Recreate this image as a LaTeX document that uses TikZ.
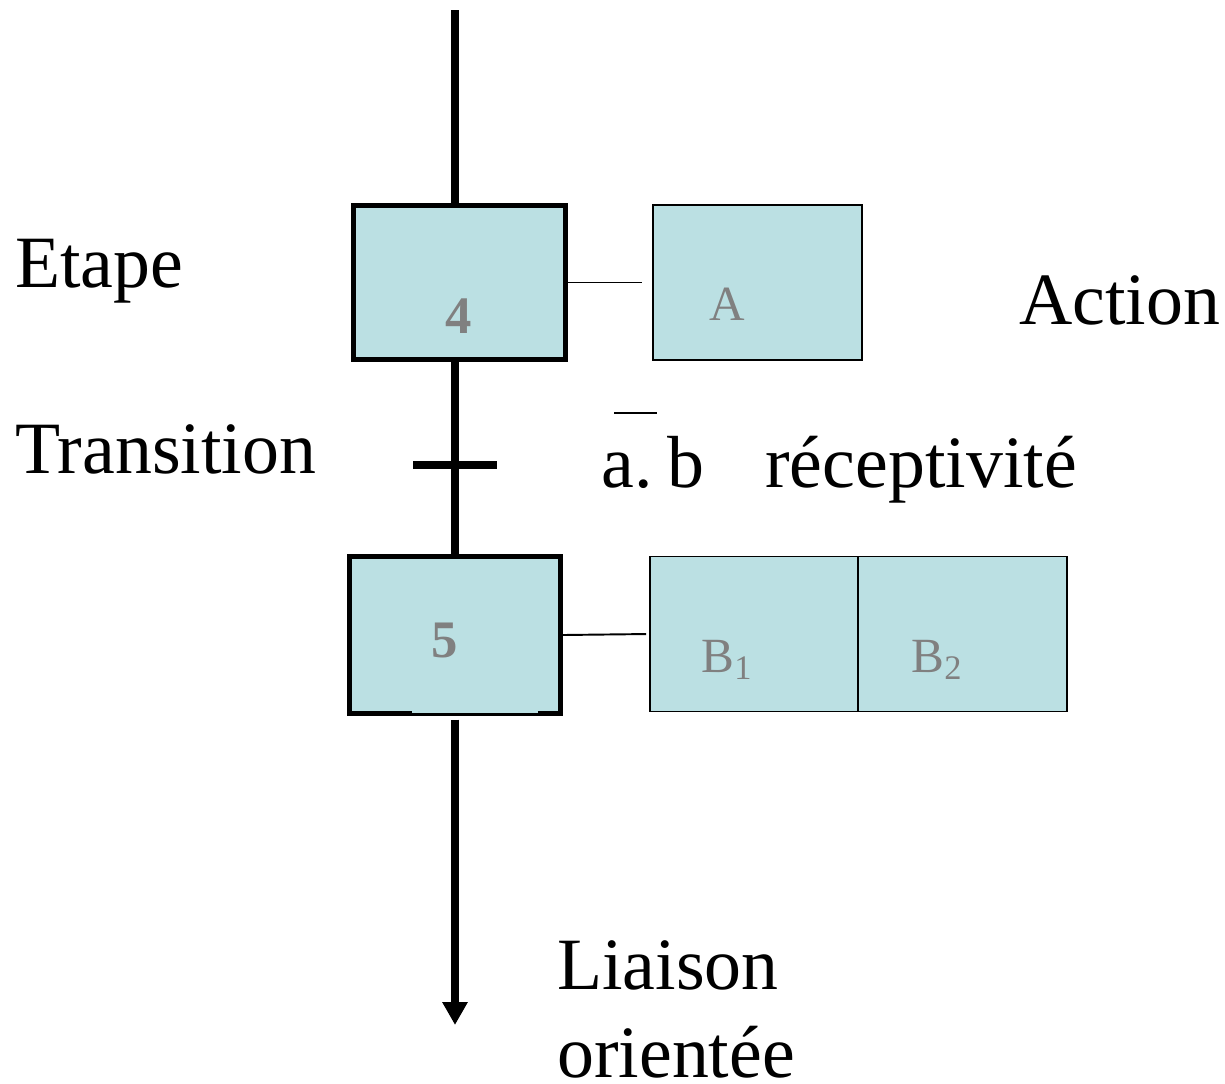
\documentclass[tikz,border=0pt]{standalone}
\usepackage{fontspec}
\setmainfont{Liberation Serif}
\usetikzlibrary{arrows.meta}
\definecolor{grafcetfill}{HTML}{BBE0E3}
\definecolor{grafcetgris}{HTML}{808080}

\begin{document}
\begin{tikzpicture}[x=0.02cm, y=-0.02cm,
  etape/.style={draw, line width=3pt, fill=grafcetfill, inner sep=0},
  action/.style={draw, line width=1.1pt, fill=grafcetfill, inner sep=0, minimum height=3.1cm},
  num/.style={anchor=base, inner sep=0, text=grafcetgris, font=\fontsize{30}{36}\selectfont\bfseries},
  actlbl/.style={anchor=base, inner sep=0, text=grafcetgris, font=\fontsize{28}{34}\selectfont},
  legende/.style={anchor=base west, inner sep=0, font=\fontsize{42}{50}\selectfont},
  liaison/.style={line width=4.5pt},
  lien/.style={line width=1.1pt}]
\useasboundingbox (0,0) rectangle (1225,1083);

% etapes et actions
\node[etape, minimum width=4.24cm, minimum height=3.08cm] (e4) at (459.5,282.5) {};
\node[etape, minimum width=4.22cm, minimum height=3.14cm] (e5) at (455,635) {};
\fill[grafcetfill] (412,708) rectangle (538,713);
\node[action, minimum width=4.18cm] (actA) at (757.5,282.5) {};
\node[action, minimum width=4.16cm] (actB1) at (754,634) {};
\node[action, minimum width=4.18cm] (actB2) at (962.5,634) {};

\node[num] (n4) at (459,333) {4};
\node[num] (n5) at (445,657) {5};
\node[actlbl] (lA) at (727,320) {A};
\node[actlbl] (lB1) at (727,672) {B\textsubscript{1}};
\node[actlbl] (lB2) at (937,672) {B\textsubscript{2}};

% liaisons
\coordinate (haut) at (455,10);
\coordinate (bas) at (455,1025);
\draw[liaison] (haut) -- (haut |- e4.north);
\draw[liaison] (haut |- e4.south) -- (haut |- e5.north);
\draw[liaison, -{Triangle[length=13pt, width=13.6pt]}] ([yshift=-2pt]e5.south) -- (bas);
\node[fill=black, inner sep=0, minimum width=1.68cm, minimum height=0.16cm] (t45) at (455,465) {};

\draw[lien, shorten <=-0.5pt, shorten >=5.7pt] (e4.east) -- (actA.west);
\draw[lien, shorten <=0pt, shorten >=1.7pt] (e5.east) -- (actB1.west);

% textes
\node[legende] (etape) at (15,287) {Etape};
\node[legende] (transition) at (15,473) {Transition};
\node[legende] (actionlbl) at (1019,324) {Action};
\node[legende] (recep) at (601,487) {a.\hspace{0.2em}b};
\draw[lien] (614,413) -- (657,413);
\node[legende] (receptivite) at (765,487) {réceptivité};
\node[legende] (liaisonlbl) at (557,989) {Liaison};
\node[legende] (orientee) at (557,1077) {orientée};
\end{tikzpicture}
\end{document}
